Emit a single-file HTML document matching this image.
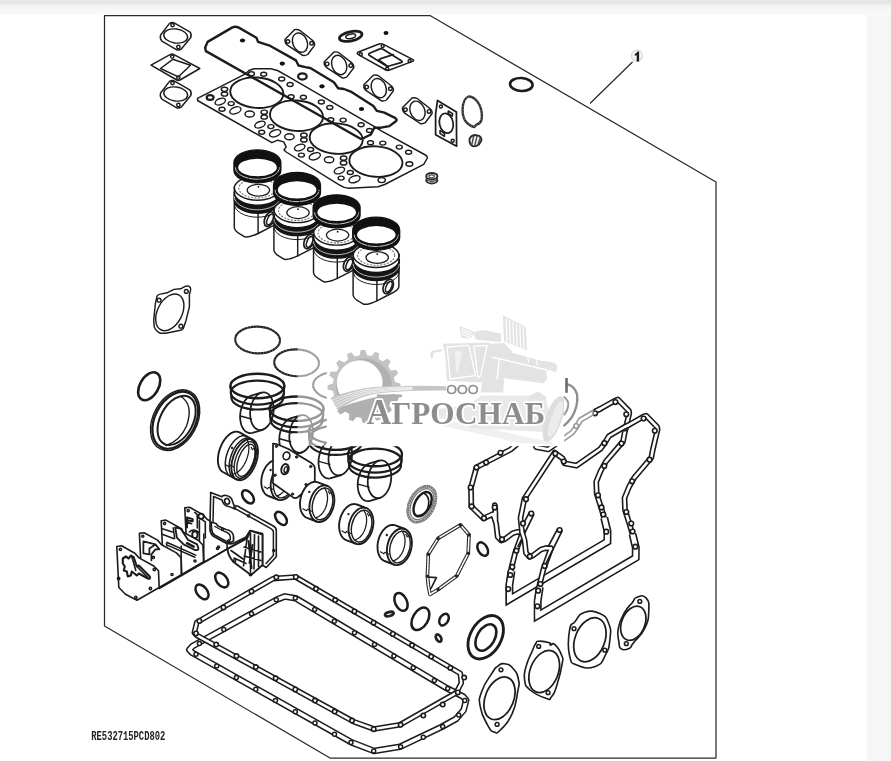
<!DOCTYPE html>
<html><head><meta charset="utf-8"><title>RE532715</title>
<style>
html,body{margin:0;padding:0;}
body{width:891px;height:761px;overflow:hidden;background:#f6f6f6;font-family:"Liberation Sans",sans-serif;position:relative;}
#topbar{position:absolute;left:0;top:0;width:891px;height:15px;background:linear-gradient(#e5e5e5 0,#e7e7e7 4px,#f3f3f3 5.5px,#f6f6f6 10px,#fafafa 15px);}
#panel{position:absolute;left:0;top:14px;width:867px;height:747px;background:#fff;}
svg{position:absolute;left:0;top:0;filter:blur(0.45px);}
</style></head><body>
<div id="panel"></div><div id="topbar"></div>
<svg width="891" height="761" viewBox="0 0 891 761" fill="none" stroke="#1c1c1c" stroke-width="1.45" stroke-linecap="round" stroke-linejoin="round">
<g id="frame" stroke="#2a2a2a" stroke-width="1.25">
<path d="M104.5 626 L104.5 15.5 L430 15.5 L716 182 L716 758 L330 758 Z"/>
<path d="M590.5 103 L632.2 62.2"/>
</g>
<circle cx="636.9" cy="55.6" r="5.6" fill="#f3f3f3" stroke="#dadada" stroke-width="1.25"/>
<path d="M639.1 51.4 L639.1 61.5 L636.7 61.5 L636.7 55 L634.8 55.9 L634.8 54 Q636.8 53 637.4 51.4 Z" fill="#1a1a1a" stroke="none"/>
<text transform="translate(91.3 739.5) scale(0.735 1)" font-family="Liberation Mono, monospace" font-weight="bold" font-size="12" fill="#222" stroke="none">RE532715PCD802</text>
<defs>
<g id="flA"><path d="M-6.2 -12.6 Q-3.7 -14.2 -0.7 -12.6 L14 -4.2 Q16.3 -2 15.1 1.5 L5.8 12.8 Q2.8 15 0.3 13.3 L-13.8 5.1 Q-16.2 2.5 -15.1 -1 Z"/><ellipse cx="0" cy="0" rx="12" ry="7" transform="rotate(8)"/><circle cx="-3.2" cy="-10.9" r="1.7"/><circle cx="2.7" cy="11" r="1.7"/></g>
<g id="flB"><path d="M-4.9 -13.1 Q-2 -13.6 0 -12.4 L13 -2.2 Q15.6 0.5 14.7 2.9 L8 11.8 Q5.5 13.3 3 12.6 L-12.6 2.2 Q-15.3 -0.5 -14.6 -3.4 Z"/><ellipse cx="0.3" cy="0" rx="7.2" ry="10" transform="rotate(-22)"/><circle cx="-11.8" cy="-1.2" r="1.8"/><circle cx="11.9" cy="0.5" r="1.8"/></g>
</defs>
<use href="#flA" x="175.7" y="36"/>
<use href="#flA" x="175.7" y="94"/>
<path d="M151 65.2 L170.5 54.3 Q172 53.6 173.5 54.4 L199.8 68.5 L180 80 Q178.4 80.8 176.8 80 Z"/>
<path d="M160.5 68.5 L172.8 59.3 L190.5 65.3 L178.4 76.8 Z" stroke-linejoin="round"/>
<circle cx="172.3" cy="56.5" r="1.6"/><circle cx="178.3" cy="77.6" r="1.6"/>
<path d="M205.1 47.8 L207.6 41.9 L232 27.6 Q235.5 26 238.8 27.6 L256.4 37.7 L258.1 41.9 L265.7 44.4 L269 45.3 L296 60.4 L298.5 65.5 L305.3 67.1 L310.3 68 L333.9 82.3 L338.1 88.2 L344 89 L350.7 91.6 L373.4 105.9 L376.8 110.9 L384.4 112.6 L394.5 117.6 Q397.5 119.5 396.2 121 L389.4 126.1 L381 127.7 L374.3 127.7 L370.9 134.5 L364.2 137.8 L361 139 L205.9 51.1 Z" stroke-width="2.38"/>
<ellipse cx="242.5" cy="40.5" rx="2.6" ry="2.1" fill="#111" stroke="none"/>
<ellipse cx="282.3" cy="63.6" rx="2.6" ry="2.1" fill="#111" stroke="none"/>
<ellipse cx="322" cy="86.3" rx="2.6" ry="2.1" fill="#111" stroke="none"/>
<ellipse cx="361.5" cy="109" rx="2.6" ry="2.1" fill="#111" stroke="none"/>
<ellipse cx="302.4" cy="76.4" rx="4.3" ry="3.1" stroke-width="2.25" fill="none" />
<ellipse cx="386" cy="33.1" rx="2.5" ry="2" fill="#111" stroke="none"/>
<use href="#flB" x="299.7" y="42.7"/>
<use href="#flB" x="338.9" y="65.1"/>
<use href="#flB" x="378.5" y="88.2"/>
<use href="#flB" x="417.2" y="110.9"/>
<ellipse cx="350.7" cy="36.3" rx="11.5" ry="4.6" transform="rotate(-12 350.7 36.3)" stroke-width="2.75" fill="none" />
<ellipse cx="350.7" cy="36.3" rx="5" ry="2.2" transform="rotate(-12 350.7 36.3)" stroke-width="1.5" fill="none" />
<path d="M358.5 52 L379 44 Q381 43.3 383 44.2 L412.5 59.4 Q414.8 60.6 412.5 61.4 L389.5 70 Q387.7 70.8 386 70 L358.3 54.6 Q356 53.2 358.5 52 Z"/>
<path d="M370 53 L380 48.9 Q381.5 48.4 383 49.2 L401 60.4 Q403.5 62 401 62.7 L389 66 Q387.5 66.5 386 65.7 L369.6 55.6 Q367.6 54 370 53 Z" stroke-width="1.75"/>
<path d="M378.8 59.9 Q380 58.5 383 57.8 L393.2 54.6 M378.8 59.9 L386.5 65.5" stroke-width="1.75"/>
<circle cx="360.8" cy="54.2" r="1.5"/>
<circle cx="382.7" cy="46.1" r="1.5"/>
<circle cx="409.6" cy="60.9" r="1.5"/>
<circle cx="387.2" cy="68.8" r="1.5"/>
<path d="M197.5 98.3 L245.5 73.9 L248.9 70.5 L253.9 68.8 L270.8 68.8 L277.5 70.5 L289.3 77.2 L374 126.4 L380.8 130.6 L425.4 155 Q428 156.5 427.1 158.5 L423.7 164.3 L384.7 184.5 L378 186.8 L349 188.3 Q344 188 339.2 184.8 L286.2 152 L284 150 L286.2 146.9 L283.7 141.9 L277.8 140.2 L271.9 142.7 L197.5 100.5 Z"/>
<ellipse cx="256.8" cy="92.7" rx="26.6" ry="15.2" transform="rotate(4 256.8 92.7)" stroke-width="1.88" fill="none" />
<ellipse cx="251.4" cy="73.8" rx="3" ry="2" fill="none" />
<ellipse cx="263.7" cy="74.2" rx="3" ry="2" fill="none" />
<ellipse cx="224.5" cy="89.3" rx="3.2" ry="2.1" fill="none" />
<ellipse cx="224.5" cy="94.0" rx="3.2" ry="2.1" fill="none" />
<ellipse cx="220.3" cy="101.6" rx="5.4" ry="3" transform="rotate(-20 220.3 101.6)" fill="none" />
<ellipse cx="231.2" cy="103.6" rx="3" ry="2" fill="none" />
<ellipse cx="222.0" cy="109.2" rx="3" ry="2" fill="none" />
<ellipse cx="235.4" cy="110.4" rx="5.8" ry="3.2" transform="rotate(-20 235.4 110.4)" fill="none" />
<ellipse cx="281.7" cy="78.9" rx="3" ry="2" fill="none" />
<ellipse cx="290.1" cy="84.5" rx="3" ry="2" fill="none" />
<ellipse cx="249.7" cy="113.9" rx="4.7" ry="3" fill="none" />
<ellipse cx="296.5" cy="115.7" rx="26.6" ry="15.2" transform="rotate(4 296.5 115.7)" stroke-width="1.88" fill="none" />
<ellipse cx="291.1" cy="96.8" rx="3" ry="2" fill="none" />
<ellipse cx="303.4" cy="97.2" rx="3" ry="2" fill="none" />
<ellipse cx="264.2" cy="112.2" rx="3.2" ry="2.1" fill="none" />
<ellipse cx="264.2" cy="117.0" rx="3.2" ry="2.1" fill="none" />
<ellipse cx="260.0" cy="124.6" rx="5.4" ry="3" transform="rotate(-20 260.0 124.6)" fill="none" />
<ellipse cx="270.9" cy="126.6" rx="3" ry="2" fill="none" />
<ellipse cx="261.7" cy="132.2" rx="3" ry="2" fill="none" />
<ellipse cx="275.1" cy="133.3" rx="5.8" ry="3.2" transform="rotate(-20 275.1 133.3)" fill="none" />
<ellipse cx="321.4" cy="101.9" rx="3" ry="2" fill="none" />
<ellipse cx="329.8" cy="107.5" rx="3" ry="2" fill="none" />
<ellipse cx="289.4" cy="136.8" rx="4.7" ry="3" fill="none" />
<ellipse cx="336.2" cy="138.6" rx="26.6" ry="15.2" transform="rotate(4 336.2 138.6)" stroke-width="1.88" fill="none" />
<ellipse cx="330.8" cy="119.7" rx="3" ry="2" fill="none" />
<ellipse cx="343.1" cy="120.1" rx="3" ry="2" fill="none" />
<ellipse cx="303.9" cy="135.2" rx="3.2" ry="2.1" fill="none" />
<ellipse cx="303.9" cy="139.9" rx="3.2" ry="2.1" fill="none" />
<ellipse cx="299.7" cy="147.5" rx="5.4" ry="3" transform="rotate(-20 299.7 147.5)" fill="none" />
<ellipse cx="310.6" cy="149.5" rx="3" ry="2" fill="none" />
<ellipse cx="301.4" cy="155.1" rx="3" ry="2" fill="none" />
<ellipse cx="314.8" cy="156.3" rx="5.8" ry="3.2" transform="rotate(-20 314.8 156.3)" fill="none" />
<ellipse cx="361.1" cy="124.8" rx="3" ry="2" fill="none" />
<ellipse cx="369.5" cy="130.4" rx="3" ry="2" fill="none" />
<ellipse cx="329.1" cy="159.8" rx="4.7" ry="3" fill="none" />
<ellipse cx="375.9" cy="161.6" rx="26.6" ry="15.2" transform="rotate(4 375.9 161.6)" stroke-width="1.88" fill="none" />
<ellipse cx="370.5" cy="142.7" rx="3" ry="2" fill="none" />
<ellipse cx="382.8" cy="143.1" rx="3" ry="2" fill="none" />
<ellipse cx="343.6" cy="158.2" rx="3.2" ry="2.1" fill="none" />
<ellipse cx="343.6" cy="162.9" rx="3.2" ry="2.1" fill="none" />
<ellipse cx="339.4" cy="170.5" rx="5.4" ry="3" transform="rotate(-20 339.4 170.5)" fill="none" />
<ellipse cx="350.3" cy="172.5" rx="3" ry="2" fill="none" />
<ellipse cx="341.1" cy="178.1" rx="3" ry="2" fill="none" />
<ellipse cx="354.5" cy="179.2" rx="5.8" ry="3.2" transform="rotate(-20 354.5 179.2)" fill="none" />
<ellipse cx="381.7" cy="180.1" rx="3.6" ry="2.5" fill="none" />
<ellipse cx="399.3" cy="147.1" rx="3" ry="2" fill="none" />
<ellipse cx="408.6" cy="152.2" rx="3" ry="2" fill="none" />
<ellipse cx="409.4" cy="164.0" rx="3.4" ry="2.3" fill="none" />
<ellipse cx="210.1" cy="97.4" rx="3.4" ry="2.4" stroke-width="2.25" fill="none" />
<defs><g id="piston">
<path d="M-23.1 23 L-23.1 63.5 Q-22.5 67 -18 69.5 L-12.7 72.7 Q-8 73.5 0.7 69.3 L14 62.5 Q22.7 58.5 22.7 55 L22.7 23 A23.1 13 0 0 0 -23.1 23 Z" fill="#fff"/>
<path d="M0.7 44 L0.7 69.3"/>
<ellipse cx="12" cy="55" rx="4.6" ry="7.6" transform="rotate(24 12 55)" fill="#fff" stroke-width="1.75"/>
<ellipse cx="12.6" cy="55.3" rx="2.6" ry="5.6" transform="rotate(24 12.6 55.3)"/>
<path d="M-23.1 23 A23.1 13 0 0 0 23.1 23" />
<path d="M-23.1 28 A23.1 13 0 0 0 23.1 28 L23.1 36 A23.1 13 0 0 1 -23.1 36 Z" fill="#151515" stroke="#151515"/>
<path d="M-23.1 32.6 A23.1 13 0 0 0 23.1 32.6" stroke="#fff" stroke-width="0.7"/>
<path d="M-23.1 40 A23.1 13 0 0 0 23.1 40" stroke-width="1.0"/>
<ellipse cx="1" cy="26" rx="11.2" ry="5.9" stroke-width="1.25"/>
<ellipse cx="0" cy="24" rx="18.5" ry="9.8" stroke="#777" stroke-width="1.12" stroke-dasharray="1.2 2.2"/>
<circle cx="1" cy="22.6" r="0.9" fill="#111" stroke="none"/>
<path d="M-23.5 -1.5 A23.5 12.8 0 0 1 23.5 -1.5 L23.5 6 A23.5 12.8 0 0 1 -23.5 6 Z" fill="#111" stroke="#111" stroke-width="1.25"/>
<ellipse cx="0.1" cy="3.3" rx="19.3" ry="8.7" fill="#fff" stroke="none"/>
<path d="M-22 3.6 A22 11.4 0 0 0 22 3.6" stroke="#fff" stroke-width="0.9" stroke-dasharray="6 1.5 10 1.2 3 1" opacity="0.85"/>
</g></defs>
<use href="#piston" x="257.4" y="164.2"/>
<use href="#piston" x="297.0" y="186.6"/>
<use href="#piston" x="336.6" y="209.1"/>
<use href="#piston" x="376.2" y="231.5"/>
<ellipse cx="521.3" cy="84.5" rx="11.3" ry="6.5" transform="rotate(3 521.3 84.5)" stroke-width="2.6" fill="none" />
<path d="M437.5 100.4 L456.4 111.9 L456.6 146.2 L435.6 134.7 L435.6 114 Z" stroke-width="1.75"/>
<ellipse cx="446.3" cy="123.3" rx="6.8" ry="10" transform="rotate(-12 446.3 123.3)" stroke-width="1.75" fill="none" />
<path d="M448.3 111 L452.6 113.6 L452.3 116.2 L448 113.4 Z" stroke-width="1.5"/>
<path d="M440 130.5 L444.6 133.6 L444.4 136.4 L440 133.4 Z" stroke-width="1.5"/>
<circle cx="440.9" cy="106.5" r="1.5"/><circle cx="452.7" cy="140.8" r="1.5"/>
<path d="M468.5 96.5 Q474 96 479 104 Q483 112 481.5 120 Q480 124 476.5 124.5 L474.5 127 Q469 126 465 120.5 Q461.5 114 463 105 Q464.5 98 468.5 96.5 Z" stroke-width="2.38" stroke="#333"/>
<path d="M468.5 96.5 Q474 96 479 104 Q483 112 481.5 120 Q480 124 476.5 124.5 L474.5 127 Q469 126 465 120.5 Q461.5 114 463 105 Q464.5 98 468.5 96.5 Z" stroke-width="2.6" stroke="#fff" stroke-dasharray="0.5 2.8" stroke-linecap="butt" opacity="0.4"/>
<path d="M469.5 139 Q471 135.3 475 135 L479 135.8 Q482 138 481.3 140.8 L479 144.5 Q476 146.8 472.8 146.2 Q469 144 469.5 139 Z" fill="#f4f4f4" stroke="#2a2a2a" stroke-width="1.88"/>
<path d="M473.6 136.5 L471.8 144.6 M477 136.6 L474.6 145.6 M480 138.6 L477.8 144.8" stroke="#444" stroke-width="1.38"/>
<ellipse cx="431.8" cy="180.2" rx="5.6" ry="3.3" fill="#fff" stroke="#2a2a2a" stroke-width="1.88"/>
<ellipse cx="431.8" cy="178.2" rx="5.4" ry="3.1" fill="#fff" stroke="#444" stroke-width="1.38"/>
<ellipse cx="431.8" cy="176.2" rx="5.6" ry="3.2" fill="#e6e6e6" stroke="#2a2a2a" stroke-width="1.88"/>
<ellipse cx="431.6" cy="176.3" rx="2.7" ry="1.4" fill="#fff" stroke="#444" stroke-width="1.12"/>
<path d="M188.7 286.1 Q191 287.5 190.7 289.4 L189.4 294.8 L189.4 306.9 L186 320.4 L183.3 328.5 Q182 330.3 179.3 330.5 L165.8 333.2 L160.4 333.2 Q156 331.5 154.3 327.1 L153.7 320.4 L155.3 304.2 L157 296.2 Q158 294.3 160.4 294.1 L167.1 292.8 L173.9 289.4 L180.6 288.8 L184.6 286.7 Q186.8 285.5 188.7 286.1 Z"/>
<ellipse cx="169.8" cy="312.3" rx="12.3" ry="19.6" transform="rotate(27 169.8 312.3)" fill="none" />
<circle cx="159.1" cy="300.2" r="1.9"/>
<circle cx="186.3" cy="291.4" r="1.9"/>
<circle cx="180.9" cy="326.2" r="1.9"/>
<ellipse cx="149.2" cy="386.3" rx="9.3" ry="15.2" transform="rotate(30 149.2 386.3)" stroke-width="2.62" fill="none" />
<ellipse cx="175.1" cy="420.2" rx="22" ry="32.3" transform="rotate(28 175.1 420.2)" stroke-width="1.38" fill="none" />
<ellipse cx="175.3" cy="420.2" rx="20.3" ry="30.5" transform="rotate(28 175.3 420.2)" stroke-width="2.38" fill="none" />
<ellipse cx="176.6" cy="420.4" rx="16.4" ry="26.5" transform="rotate(28 176.6 420.4)" stroke-width="2.0" fill="none" />
<path d="M181 396.5 Q194 405 186.5 426 Q180 441 166 445.5" stroke-width="1.38"/>
<ellipse cx="257.6" cy="340" rx="22.4" ry="13.4" transform="rotate(2 257.6 340)" stroke-width="2.12" fill="none" stroke="#222"/>
<ellipse cx="257.6" cy="340" rx="22.4" ry="13.4" transform="rotate(2 257.6 340)" stroke-width="2.2" fill="none" stroke="#fff" stroke-dasharray="0.5 2.6" stroke-linecap="butt" opacity="0.4"/>
<ellipse cx="296.6" cy="362.8" rx="22.4" ry="13.4" transform="rotate(2 296.6 362.8)" stroke-width="2.12" fill="none" stroke="#222"/>
<ellipse cx="296.6" cy="362.8" rx="22.4" ry="13.4" transform="rotate(2 296.6 362.8)" stroke-width="2.2" fill="none" stroke="#fff" stroke-dasharray="0.5 2.6" stroke-linecap="butt" opacity="0.4"/>
<ellipse cx="335.5" cy="385.6" rx="22.4" ry="13.4" transform="rotate(2 335.5 385.6)" stroke-width="2.12" fill="none" stroke="#222"/>
<ellipse cx="335.5" cy="385.6" rx="22.4" ry="13.4" transform="rotate(2 335.5 385.6)" stroke-width="2.2" fill="none" stroke="#fff" stroke-dasharray="0.5 2.6" stroke-linecap="butt" opacity="0.4"/>
<path d="M262.5 429.8 L252.5 432.8 L251.5 433.0 L250.6 433.1 L249.7 433.1 L248.8 432.9 L247.9 432.7 L247.1 432.3 L246.2 431.9 L245.4 431.3 L244.7 430.6 L244.0 429.8 L243.3 428.9 L242.7 428.0 L242.2 426.9 L241.7 425.8 L241.2 424.6 L240.9 423.3 L240.6 422.0 L240.4 420.6 L240.2 419.2 L240.1 417.7 L240.1 416.3 L240.2 414.8 L240.3 413.3 L240.5 411.8 L240.8 410.4 L241.2 408.9 L241.6 407.5 L242.0 406.2 L242.6 404.8 L243.2 403.6 L243.8 402.4 L244.5 401.3 L245.3 400.2 L246.1 399.3 L246.9 398.4 L247.7 397.6 L248.6 397.0 L249.5 396.4 L250.4 396.0 L251.3 395.6 L261.3 392.6" stroke-width="1.75" fill="#fff"/>
<ellipse cx="261.9" cy="411.2" rx="11.6" ry="19" transform="rotate(8 261.9 411.2)" stroke-width="1.75" fill="none"/>
<path d="M241.4 407.0 L252.4 410.0 M240.4 416.0 L251.4 419.0" stroke-width="1.5"/>
<ellipse cx="257.4" cy="386.0" rx="27" ry="12.2" stroke-width="2.38" fill="none" />
<ellipse cx="257.4" cy="392.5" rx="26.6" ry="12" stroke-width="2.25" fill="none" />
<path d="M231.4 397.5 A26 12 0 0 0 283.4 397.5" stroke-width="2.12"/>
<path d="M230.4 386.0 L231.4 397.5 M284.4 386.0 L283.4 397.5" stroke-width="1.88"/>
<path d="M301.7 452.5 L291.7 455.5 L290.7 455.7 L289.8 455.8 L288.9 455.8 L288.0 455.6 L287.1 455.4 L286.3 455.0 L285.4 454.6 L284.6 454.0 L283.9 453.3 L283.2 452.5 L282.5 451.6 L281.9 450.7 L281.4 449.6 L280.9 448.5 L280.4 447.3 L280.1 446.0 L279.8 444.7 L279.6 443.3 L279.4 441.9 L279.3 440.4 L279.3 439.0 L279.4 437.5 L279.5 436.0 L279.7 434.5 L280.0 433.1 L280.4 431.6 L280.8 430.2 L281.2 428.9 L281.8 427.5 L282.4 426.3 L283.0 425.1 L283.7 424.0 L284.5 422.9 L285.3 422.0 L286.1 421.1 L286.9 420.3 L287.8 419.7 L288.7 419.1 L289.6 418.7 L290.5 418.3 L300.5 415.3" stroke-width="1.75" fill="#fff"/>
<ellipse cx="301.1" cy="433.9" rx="11.6" ry="19" transform="rotate(8 301.1 433.9)" stroke-width="1.75" fill="none"/>
<path d="M280.6 429.7 L291.6 432.7 M279.6 438.7 L290.6 441.7" stroke-width="1.5"/>
<ellipse cx="296.6" cy="408.7" rx="27" ry="12.2" stroke-width="2.38" fill="none" />
<ellipse cx="296.6" cy="415.2" rx="26.6" ry="12" stroke-width="2.25" fill="none" />
<path d="M270.6 420.2 A26 12 0 0 0 322.6 420.2" stroke-width="2.12"/>
<path d="M269.6 408.7 L270.6 420.2 M323.6 408.7 L322.6 420.2" stroke-width="1.88"/>
<path d="M340.9 475.2 L330.9 478.2 L329.9 478.4 L329.0 478.5 L328.1 478.5 L327.2 478.3 L326.3 478.1 L325.5 477.7 L324.6 477.3 L323.8 476.7 L323.1 476.0 L322.4 475.2 L321.7 474.3 L321.1 473.4 L320.6 472.3 L320.1 471.2 L319.6 470.0 L319.3 468.7 L319.0 467.4 L318.8 466.0 L318.6 464.6 L318.5 463.1 L318.5 461.7 L318.6 460.2 L318.7 458.7 L318.9 457.2 L319.2 455.8 L319.6 454.3 L320.0 452.9 L320.4 451.6 L321.0 450.2 L321.6 449.0 L322.2 447.8 L322.9 446.7 L323.7 445.6 L324.5 444.7 L325.3 443.8 L326.1 443.0 L327.0 442.4 L327.9 441.8 L328.8 441.4 L329.7 441.0 L339.7 438.0" stroke-width="1.75" fill="#fff"/>
<ellipse cx="340.3" cy="456.6" rx="11.6" ry="19" transform="rotate(8 340.3 456.6)" stroke-width="1.75" fill="none"/>
<path d="M319.8 452.4 L330.8 455.4 M318.8 461.4 L329.8 464.4" stroke-width="1.5"/>
<ellipse cx="335.8" cy="431.4" rx="27" ry="12.2" stroke-width="2.38" fill="none" />
<ellipse cx="335.8" cy="437.9" rx="26.6" ry="12" stroke-width="2.25" fill="none" />
<path d="M309.8 442.9 A26 12 0 0 0 361.8 442.9" stroke-width="2.12"/>
<path d="M308.8 431.4 L309.8 442.9 M362.8 431.4 L361.8 442.9" stroke-width="1.88"/>
<path d="M380.1 497.9 L370.1 500.9 L369.1 501.1 L368.2 501.2 L367.3 501.2 L366.4 501.0 L365.5 500.8 L364.7 500.4 L363.8 500.0 L363.0 499.4 L362.3 498.7 L361.6 497.9 L360.9 497.0 L360.3 496.1 L359.8 495.0 L359.3 493.9 L358.8 492.7 L358.5 491.4 L358.2 490.1 L358.0 488.7 L357.8 487.3 L357.7 485.8 L357.7 484.4 L357.8 482.9 L357.9 481.4 L358.1 479.9 L358.4 478.5 L358.8 477.0 L359.2 475.6 L359.6 474.3 L360.2 472.9 L360.8 471.7 L361.4 470.5 L362.1 469.4 L362.9 468.3 L363.7 467.4 L364.5 466.5 L365.3 465.7 L366.2 465.1 L367.1 464.5 L368.0 464.1 L368.9 463.7 L378.9 460.7" stroke-width="1.75" fill="#fff"/>
<ellipse cx="379.5" cy="479.3" rx="11.6" ry="19" transform="rotate(8 379.5 479.3)" stroke-width="1.75" fill="none"/>
<path d="M359.0 475.1 L370.0 478.1 M358.0 484.1 L369.0 487.1" stroke-width="1.5"/>
<ellipse cx="375.0" cy="454.1" rx="27" ry="12.2" stroke-width="2.38" fill="none" />
<ellipse cx="375.0" cy="460.6" rx="26.6" ry="12" stroke-width="2.25" fill="none" />
<path d="M349.0 465.6 A26 12 0 0 0 401.0 465.6" stroke-width="2.12"/>
<path d="M348.0 454.1 L349.0 465.6 M402.0 454.1 L401.0 465.6" stroke-width="1.88"/>
<path d="M236.4 479.5 L222.9 472.0 L222.1 471.5 L221.4 470.8 L220.7 470.1 L220.1 469.2 L219.6 468.3 L219.1 467.2 L218.7 466.0 L218.4 464.8 L218.1 463.5 L218.0 462.1 L217.9 460.6 L217.9 459.1 L218.0 457.6 L218.2 456.0 L218.4 454.4 L218.7 452.8 L219.1 451.2 L219.6 449.6 L220.2 448.0 L220.8 446.4 L221.5 444.9 L222.2 443.4 L223.0 442.0 L223.9 440.6 L224.8 439.3 L225.7 438.1 L226.7 436.9 L227.7 435.9 L228.7 435.0 L229.7 434.1 L230.7 433.4 L231.8 432.8 L232.8 432.3 L233.9 432.0 L234.9 431.7 L235.9 431.6 L236.8 431.6 L237.8 431.8 L238.6 432.0 L239.5 432.4 L253.0 439.9" stroke-width="1.88" fill="#fff"/>
<ellipse cx="244.7" cy="459.7" rx="11.8" ry="21.5" transform="rotate(20 244.7 459.7)" stroke-width="1.88" fill="none"/>
<ellipse cx="245.29999999999998" cy="459.9" rx="9.600000000000001" ry="19.1" transform="rotate(20 245.29999999999998 459.9)" stroke-width="1.38" fill="none" />
<path d="M247.1 440.0 L247.8 441.4 L248.4 443.0 L248.7 444.7 L248.9 446.7 L248.9 448.8 L248.7 451.0 L248.4 453.3 L247.8 455.6 L247.1 457.9 L246.3 460.2 L245.3 462.4 L244.2 464.5 L243.0 466.4 L241.7 468.2 L240.3 469.8 L238.9 471.1 L237.5 472.2 L236.1 473.0 L234.7 473.6 L233.4 473.8" stroke-width="1.25"/>
<circle cx="232.1" cy="447.9" r="1.2" fill="#222" stroke="none"/>
<path d="M251.2 447.2 l1.2 2.5 l1.6 -1.6 l0.8 2.4" stroke-width="1.12"/>
<path d="M225.7 464.7 l3.5 2 l1 -1.5 l4 2" stroke-width="1.12"/>
<path d="M230.3 476.1 L229.5 475.6 L228.8 475.0 L228.1 474.2 L227.5 473.3 L227.0 472.4 L226.5 471.3 L226.1 470.2 L225.8 468.9 L225.6 467.6 L225.4 466.2 L225.3 464.8 L225.3 463.3 L225.4 461.7 L225.6 460.2 L225.8 458.6 L226.2 456.9 L226.6 455.3 L227.1 453.7 L227.6 452.1 L228.2 450.5 L228.9 449.0 L229.6 447.5 L230.4 446.1 L231.3 444.7 L232.2 443.4 L233.1 442.2 L234.1 441.1 L235.1 440.0 L236.1 439.1 L237.1 438.3 L238.2 437.5 L239.2 436.9 L240.3 436.4 L241.3 436.1 L242.3 435.8 L243.3 435.7 L244.3 435.7 L245.2 435.9 L246.1 436.2 L246.9 436.6" stroke-width="1.5"/>
<ellipse cx="245.89999999999998" cy="460.3" rx="7.6000000000000005" ry="16.9" transform="rotate(20 245.89999999999998 460.3)" stroke-width="1.38" fill="none" />
<ellipse cx="242.5" cy="458.7" rx="11.8" ry="21.5" transform="rotate(20 242.5 458.7)" stroke-width="1.5" fill="none" />
<path d="M277.8 499.6 L268.4 496.0 L267.5 495.6 L266.7 495.1 L265.9 494.5 L265.2 493.8 L264.5 493.0 L263.9 492.1 L263.3 491.1 L262.8 490.0 L262.4 488.9 L262.0 487.7 L261.7 486.5 L261.5 485.2 L261.4 483.8 L261.3 482.4 L261.3 481.0 L261.4 479.6 L261.6 478.2 L261.8 476.7 L262.2 475.3 L262.5 473.9 L263.0 472.5 L263.5 471.2 L264.1 469.9 L264.8 468.6 L265.5 467.4 L266.2 466.3 L267.0 465.2 L267.9 464.3 L268.7 463.4 L269.7 462.6 L270.6 461.9 L271.6 461.3 L272.5 460.8 L273.5 460.4 L274.5 460.1 L275.5 460.0 L276.4 459.9 L277.4 460.0 L278.3 460.2 L279.2 460.4 L288.6 464.0" stroke-width="1.88" fill="#fff"/>
<ellipse cx="283.2" cy="481.8" rx="12" ry="18.6" transform="rotate(14 283.2 481.8)" stroke-width="1.88" fill="none"/>
<ellipse cx="283.8" cy="482.0" rx="9.8" ry="16.200000000000003" transform="rotate(14 283.8 482.0)" stroke-width="1.38" fill="none" />
<path d="M285.6 466.0 L286.5 467.1 L287.3 468.5 L287.9 470.0 L288.4 471.6 L288.7 473.4 L288.8 475.3 L288.8 477.3 L288.6 479.3 L288.2 481.4 L287.7 483.4 L287.1 485.3 L286.3 487.2 L285.3 488.9 L284.3 490.5 L283.2 491.9 L282.0 493.1 L280.7 494.1 L279.4 494.9 L278.1 495.4 L276.8 495.7" stroke-width="1.25"/>
<circle cx="270.6" cy="470.0" r="1.2" fill="#222" stroke="none"/>
<path d="M289.7 469.3 l1.2 2.5 l1.6 -1.6 l0.8 2.4" stroke-width="1.12"/>
<path d="M264.2 486.8 l3.5 2 l1 -1.5 l4 2" stroke-width="1.12"/>
<path d="M273 443.6 L276.5 444 L288.5 449 L299.3 455.7 L311.4 463.1 Q314.8 465.5 314.8 468 L314.8 483.3 L298 497 Q295.5 498.8 293 497.4 L273 483.3 Z" fill="#fff" stroke-width="1.75"/>
<ellipse cx="286.5" cy="455.9" rx="3.4" ry="3.9" transform="rotate(15 286.5 455.9)" stroke-width="1.62" fill="none" />
<ellipse cx="285" cy="469.2" rx="3.6" ry="5.2" transform="rotate(15 285 469.2)" stroke-width="2.0" fill="none" />
<ellipse cx="285.8" cy="469.6" rx="1.6" ry="3.0" transform="rotate(15 285.8 469.6)" stroke-width="1.38" fill="none" />
<circle cx="276.4" cy="446.3" r="1.2" fill="#333" stroke="#222" stroke-width="1.0"/>
<circle cx="275" cy="475.2" r="1.2" fill="#333" stroke="#222" stroke-width="1.0"/>
<circle cx="296.6" cy="457" r="1.2" fill="#333" stroke="#222" stroke-width="1.0"/>
<circle cx="310.7" cy="466.5" r="1.2" fill="#333" stroke="#222" stroke-width="1.0"/>
<circle cx="306" cy="484.6" r="1.2" fill="#333" stroke="#222" stroke-width="1.0"/>
<circle cx="292.5" cy="494.1" r="1.2" fill="#333" stroke="#222" stroke-width="1.0"/>
<circle cx="308.7" cy="491.4" r="1.2" fill="#333" stroke="#222" stroke-width="1.0"/>
<path d="M316.5 521.5 L307.1 517.9 L306.2 517.5 L305.4 517.0 L304.6 516.4 L303.9 515.7 L303.2 514.9 L302.6 514.0 L302.0 513.0 L301.5 511.9 L301.1 510.8 L300.7 509.6 L300.4 508.4 L300.2 507.1 L300.1 505.7 L300.0 504.3 L300.0 502.9 L300.1 501.5 L300.3 500.1 L300.5 498.6 L300.9 497.2 L301.2 495.8 L301.7 494.4 L302.2 493.1 L302.8 491.8 L303.5 490.5 L304.2 489.3 L304.9 488.2 L305.7 487.1 L306.6 486.2 L307.4 485.3 L308.4 484.5 L309.3 483.8 L310.3 483.2 L311.2 482.7 L312.2 482.3 L313.2 482.0 L314.2 481.9 L315.1 481.8 L316.1 481.9 L317.0 482.1 L317.9 482.3 L327.3 485.9" stroke-width="1.88" fill="#fff"/>
<ellipse cx="321.9" cy="503.7" rx="12" ry="18.6" transform="rotate(14 321.9 503.7)" stroke-width="1.88" fill="none"/>
<ellipse cx="322.5" cy="503.9" rx="9.8" ry="16.200000000000003" transform="rotate(14 322.5 503.9)" stroke-width="1.38" fill="none" />
<path d="M324.3 487.9 L325.2 489.0 L326.0 490.4 L326.6 491.9 L327.1 493.5 L327.4 495.3 L327.5 497.2 L327.5 499.2 L327.3 501.2 L326.9 503.3 L326.4 505.3 L325.8 507.2 L325.0 509.1 L324.0 510.8 L323.0 512.4 L321.9 513.8 L320.7 515.0 L319.4 516.0 L318.1 516.8 L316.8 517.3 L315.5 517.6" stroke-width="1.25"/>
<circle cx="309.3" cy="491.9" r="1.2" fill="#222" stroke="none"/>
<path d="M328.4 491.2 l1.2 2.5 l1.6 -1.6 l0.8 2.4" stroke-width="1.12"/>
<path d="M302.9 508.7 l3.5 2 l1 -1.5 l4 2" stroke-width="1.12"/>
<path d="M355.6 543.7 L346.2 540.1 L345.3 539.7 L344.5 539.2 L343.7 538.6 L343.0 537.9 L342.3 537.1 L341.7 536.2 L341.1 535.2 L340.6 534.1 L340.2 533.0 L339.8 531.8 L339.5 530.6 L339.3 529.3 L339.2 527.9 L339.1 526.5 L339.1 525.1 L339.2 523.7 L339.4 522.3 L339.6 520.8 L340.0 519.4 L340.3 518.0 L340.8 516.6 L341.3 515.3 L341.9 514.0 L342.6 512.7 L343.3 511.5 L344.0 510.4 L344.8 509.3 L345.7 508.4 L346.5 507.5 L347.5 506.7 L348.4 506.0 L349.4 505.4 L350.3 504.9 L351.3 504.5 L352.3 504.2 L353.3 504.1 L354.2 504.0 L355.2 504.1 L356.1 504.3 L357.0 504.5 L366.4 508.1" stroke-width="1.88" fill="#fff"/>
<ellipse cx="361" cy="525.9" rx="12" ry="18.6" transform="rotate(14 361 525.9)" stroke-width="1.88" fill="none"/>
<ellipse cx="361.6" cy="526.1" rx="9.8" ry="16.200000000000003" transform="rotate(14 361.6 526.1)" stroke-width="1.38" fill="none" />
<path d="M363.4 510.1 L364.3 511.2 L365.1 512.6 L365.7 514.1 L366.2 515.7 L366.5 517.5 L366.6 519.4 L366.6 521.4 L366.4 523.4 L366.0 525.5 L365.5 527.5 L364.9 529.4 L364.1 531.3 L363.1 533.0 L362.1 534.6 L361.0 536.0 L359.8 537.2 L358.5 538.2 L357.2 539.0 L355.9 539.5 L354.6 539.8" stroke-width="1.25"/>
<circle cx="348.4" cy="514.1" r="1.2" fill="#222" stroke="none"/>
<path d="M367.5 513.4 l1.2 2.5 l1.6 -1.6 l0.8 2.4" stroke-width="1.12"/>
<path d="M342.0 530.9 l3.5 2 l1 -1.5 l4 2" stroke-width="1.12"/>
<path d="M394.0 564.6 L384.6 561.0 L383.7 560.6 L382.9 560.1 L382.1 559.5 L381.4 558.8 L380.7 558.0 L380.1 557.1 L379.5 556.1 L379.0 555.0 L378.6 553.9 L378.2 552.7 L377.9 551.5 L377.7 550.2 L377.6 548.8 L377.5 547.4 L377.5 546.0 L377.6 544.6 L377.8 543.2 L378.0 541.7 L378.4 540.3 L378.7 538.9 L379.2 537.5 L379.7 536.2 L380.3 534.9 L381.0 533.6 L381.7 532.4 L382.4 531.3 L383.2 530.2 L384.1 529.3 L384.9 528.4 L385.9 527.6 L386.8 526.9 L387.8 526.3 L388.7 525.8 L389.7 525.4 L390.7 525.1 L391.7 525.0 L392.6 524.9 L393.6 525.0 L394.5 525.2 L395.4 525.4 L404.8 529.0" stroke-width="1.88" fill="#fff"/>
<ellipse cx="399.4" cy="546.8" rx="12" ry="18.6" transform="rotate(14 399.4 546.8)" stroke-width="1.88" fill="none"/>
<ellipse cx="400.0" cy="547.0" rx="9.8" ry="16.200000000000003" transform="rotate(14 400.0 547.0)" stroke-width="1.38" fill="none" />
<path d="M401.8 531.0 L402.7 532.1 L403.5 533.5 L404.1 535.0 L404.6 536.6 L404.9 538.4 L405.0 540.3 L405.0 542.3 L404.8 544.3 L404.4 546.4 L403.9 548.4 L403.3 550.3 L402.5 552.2 L401.5 553.9 L400.5 555.5 L399.4 556.9 L398.2 558.1 L396.9 559.1 L395.6 559.9 L394.3 560.4 L393.0 560.7" stroke-width="1.25"/>
<circle cx="386.8" cy="535.0" r="1.2" fill="#222" stroke="none"/>
<path d="M405.9 534.3 l1.2 2.5 l1.6 -1.6 l0.8 2.4" stroke-width="1.12"/>
<path d="M380.4 551.8 l3.5 2 l1 -1.5 l4 2" stroke-width="1.12"/>
<path d="M184.8 507.9 L189.5 507.2 L202.9 514.6 L207.0 519.3 L221.8 527.4 L226.5 532.1 L227.2 548.9 L205.0 561.7 L193.5 555.7 L186.8 548.9 Z" fill="#fff" stroke-width="1.62"/>
<g transform="translate(184.8 507.9)"><path d="M2.2 9.5 L2.2 19.6 M2.2 9.5 L7.9 11.2 L7.9 13.4 L3.4 12.6 M2.2 14.6 L6.7 15.7" stroke-width="2.0"/><circle cx="16.3" cy="8.4" r="2.7" stroke-width="1.88"/><ellipse cx="10.1" cy="26.9" rx="2.7" ry="3.5" stroke-width="1.88"/><path d="M14.6 12.9 L14.6 36.5 M4.5 24.1 Q9 19.5 14.6 25.3 M10 4.5 Q13 6 12.5 9.5 L12.5 20 M17.5 12 L20.5 14 L20.5 30" stroke-width="1.62"/><circle cx="3.4" cy="2.8" r="1.1"/><circle cx="2.8" cy="30" r="1.1"/></g>
<path d="M161.2 520.8 L165.9 520.1 L179.3 527.5 L183.4 532.2 L198.2 540.3 L202.9 545.0 L203.6 561.8 L181.4 574.6 L169.9 568.6 L163.2 561.8 Z" fill="#fff" stroke-width="1.62"/>
<g transform="translate(161.2 520.8)"><path d="M14 6.7 L15.7 16.8 L22.4 23.6 L33.7 29.2 Q38 30 37 26.9 L35.9 23.6 L26.9 19.1 L22.4 12.3 L20.2 7.9 Z" stroke-width="1.88"/><path d="M25.8 22.4 L32.5 25.8" stroke-width="2.5"/><path d="M5.6 24.1 L33.7 36.5 M6.6 22 L34.5 34.3 M1.1 7.9 L11.2 11.2 M1.1 13.5 L12.9 18 M12 7 L13.5 17.5 M6 21.5 Q4.5 23 6 25" stroke-width="1.5"/><circle cx="3.4" cy="2.8" r="1.1"/><circle cx="3" cy="27" r="1.1"/><circle cx="16" cy="35" r="1.1"/></g>
<path d="M139.4 533.4 L144.1 532.7 L157.5 540.1 L161.6 544.8 L176.4 552.9 L181.1 557.6 L181.8 574.4 L159.6 587.2 L148.1 581.2 L141.4 574.4 Z" fill="#fff" stroke-width="1.62"/>
<g transform="translate(139.4 533.4)"><path d="M4 8 L16 11 L10 15 L10 21 L4 20 Z M16 11 L20 16 L16 16 L12 21 L12 27" stroke-width="1.75"/><circle cx="3.4" cy="2.8" r="1.1"/><circle cx="14" cy="24" r="1.1"/></g>
<path d="M116.8 546.5 L121.5 545.8 L134.9 553.2 L139.0 557.9 L153.8 566.0 L158.5 570.7 L159.2 587.5 L137.0 600.3 L125.5 594.3 L118.8 587.5 Z" fill="#fff" stroke-width="1.62"/>
<g transform="translate(116.8 546.5)"><path d="M6 12 L9 10 L12 12 L14 9 L17 11 L20 20 L22 19 L33 30 Q34 33 31 32 L22 27 L20 29 L15 25 L14 29 L11 30 L10 25 L7 24 L8 20 L6 17 Z" stroke-width="2.12"/><path d="M15 10 L19 24 M21 21 L31 31" stroke-width="1.62"/><circle cx="3.6" cy="2.8" r="1.2"/><circle cx="1.8" cy="32" r="1.2"/><circle cx="37.5" cy="23" r="1.2"/><circle cx="33.6" cy="42" r="1.2"/><circle cx="19" cy="51" r="1.2"/></g>
<path d="M159.2 588.5 L247 537.5" stroke-width="1.62"/>
<path d="M181.2 546 L181.2 575.5 M203.8 534 L203.8 562" stroke-width="1.5"/>
<circle cx="172" cy="574.5" r="1.1"/><circle cx="195" cy="561" r="1.1"/><circle cx="217.5" cy="548.5" r="1.1"/>
<path d="M210.7 492.4 L221.8 496.8 Q222.5 495 226 495.5 Q231.5 496.3 232.6 501.5 L233.9 505.3 L237.9 506.3 L272.9 525.8 Q276.3 527.5 276.3 530.5 L276.3 556.8 L266.2 567.5 L262.5 565.2 L262.5 533.5 L250 530.5 L246 537 L233 543.5 Q228 545 222 541 L213 536 Q209.9 533 209.9 529 Z" stroke-width="1.62" fill="#fff"/>
<path d="M213.6 496.5 L222 500 Q223.5 506 229 506.6 L236.5 509.3 L270.5 528.3 Q273.4 529.8 273.4 532 L273.4 555.6 L266 563.4" stroke-width="1.5"/>
<path d="M213.6 496.5 L213 521.5" stroke-width="1.5"/>
<ellipse cx="227.1" cy="501.3" rx="2.4" ry="2.9" transform="rotate(-20 227.1 501.3)" stroke-width="1.62" fill="none" />
<path d="M211 522 L216 523.5 L218 526 L226 529.5 Q233 531 233.5 536 L233.5 541 Q231 543.5 226.5 541.5 L214.5 535 Q211.5 532.5 211.5 528 Z" stroke-width="1.75"/>
<path d="M214.8 526.5 L224.5 531.5 Q230 533 230.3 537 L230.3 539.5" stroke-width="1.38"/>
<circle cx="234.5" cy="507.8" r="1.1"/>
<circle cx="248.5" cy="515.8" r="1.1"/>
<circle cx="273.8" cy="550.5" r="1.1"/>
<circle cx="222.5" cy="529.5" r="1.1"/>
<circle cx="228.8" cy="540.8" r="1.1"/>
<circle cx="218.5" cy="547" r="1.1"/>
<path d="M227.5 549 L247 538.5 L250.5 530.8 L262.5 534.5 L262.5 565 L251 575 L233.5 562 Q228 556 227.5 549 Z" fill="#fff" stroke-width="1.88"/>
<path d="M247 538.5 L243.5 566 M250.5 533.5 L250.5 572 M254.5 534.5 L254 569 M258.5 536 L258.5 566.5 M231 550.5 L243 559 M244 547 L261 552 M244 556 L261 560.5 M234 558 L246 563.5" stroke-width="1.62"/>
<path d="M248.5 541 L251.5 568 M252.5 545 L249.5 563" stroke-width="2.0"/>
<circle cx="234.5" cy="560.8" r="1.2"/><circle cx="250.5" cy="574.5" r="1.2"/>
<ellipse cx="248" cy="496.8" rx="7.6" ry="4.6" transform="rotate(52 248 496.8)" stroke-width="2.5" fill="none" />
<ellipse cx="281" cy="518.4" rx="7.6" ry="4.6" transform="rotate(52 281 518.4)" stroke-width="2.5" fill="none" />
<ellipse cx="221.8" cy="580" rx="8.4" ry="5.2" transform="rotate(52 221.8 580)" stroke-width="2.5" fill="none" />
<ellipse cx="202" cy="591.9" rx="8.4" ry="5.2" transform="rotate(52 202 591.9)" stroke-width="2.5" fill="none" />
<path d="M189.3 649.8 L192.5 646.2 L277.5 599.3 L285.0 596.4 L295.5 598.2 L447.0 688.3 L463.0 696.5 L466.2 700.2 L463.6 710.2 L456.0 719.0 L441.5 727.0 L400.0 746.8 L374.0 751.0 L351.5 742.3 L192.0 652.6 Z" stroke="#1c1c1c" stroke-width="6.6" stroke-linejoin="round"/>
<path d="M189.3 649.8 L192.5 646.2 L277.5 599.3 L285.0 596.4 L295.5 598.2 L447.0 688.3 L463.0 696.5 L466.2 700.2 L463.6 710.2 L456.0 719.0 L441.5 727.0 L400.0 746.8 L374.0 751.0 L351.5 742.3 L192.0 652.6 Z" stroke="#fff" stroke-width="3.6" stroke-linejoin="round"/>
<circle cx="196.0" cy="654.2" r="2.0" fill="#fff" stroke-width="1.5"/>
<circle cx="216.7" cy="666.0" r="2.0" fill="#fff" stroke-width="1.5"/>
<circle cx="236.4" cy="677.5" r="2.0" fill="#fff" stroke-width="1.5"/>
<circle cx="255.8" cy="689.2" r="2.0" fill="#fff" stroke-width="1.5"/>
<circle cx="275.5" cy="700.5" r="2.0" fill="#fff" stroke-width="1.5"/>
<circle cx="295.3" cy="711.8" r="2.0" fill="#fff" stroke-width="1.5"/>
<circle cx="315.0" cy="723.0" r="2.0" fill="#fff" stroke-width="1.5"/>
<circle cx="334.5" cy="734.2" r="2.0" fill="#fff" stroke-width="1.5"/>
<circle cx="351.0" cy="742.6" r="2.0" fill="#fff" stroke-width="1.5"/>
<circle cx="373.7" cy="751.0" r="2.0" fill="#fff" stroke-width="1.5"/>
<circle cx="400.6" cy="746.8" r="2.0" fill="#fff" stroke-width="1.5"/>
<circle cx="423.3" cy="737.2" r="2.0" fill="#fff" stroke-width="1.5"/>
<circle cx="442.7" cy="726.6" r="2.0" fill="#fff" stroke-width="1.5"/>
<circle cx="458.7" cy="714.9" r="2.0" fill="#fff" stroke-width="1.5"/>
<circle cx="464.8" cy="700.5" r="2.0" fill="#fff" stroke-width="1.5"/>
<circle cx="199.4" cy="643.5" r="2.0" fill="#fff" stroke-width="1.5"/>
<circle cx="223.8" cy="629.6" r="2.0" fill="#fff" stroke-width="1.5"/>
<circle cx="251.5" cy="613.8" r="2.0" fill="#fff" stroke-width="1.5"/>
<circle cx="276.3" cy="599.8" r="2.0" fill="#fff" stroke-width="1.5"/>
<circle cx="295.3" cy="598.0" r="2.0" fill="#fff" stroke-width="1.5"/>
<circle cx="314.7" cy="609.6" r="2.0" fill="#fff" stroke-width="1.5"/>
<circle cx="334.3" cy="621.3" r="2.0" fill="#fff" stroke-width="1.5"/>
<circle cx="354.5" cy="632.7" r="2.0" fill="#fff" stroke-width="1.5"/>
<circle cx="374.5" cy="644.6" r="2.0" fill="#fff" stroke-width="1.5"/>
<circle cx="393.9" cy="656.0" r="2.0" fill="#fff" stroke-width="1.5"/>
<circle cx="413.2" cy="667.8" r="2.0" fill="#fff" stroke-width="1.5"/>
<circle cx="434.3" cy="680.5" r="2.0" fill="#fff" stroke-width="1.5"/>
<circle cx="447.7" cy="688.5" r="2.0" fill="#fff" stroke-width="1.5"/>
<path d="M194.3 632.6 L196.8 622.4 L273.2 578.6 L295.5 577.0 L460.3 673.4 L461.3 683.0 L456.2 692.8 L400.0 724.8 L374.0 729.0 L354.0 721.8 L196.5 635.2 Z" stroke="#1c1c1c" stroke-width="5.6" stroke-linejoin="round"/>
<path d="M194.3 632.6 L196.8 622.4 L273.2 578.6 L295.5 577.0 L460.3 673.4 L461.3 683.0 L456.2 692.8 L400.0 724.8 L374.0 729.0 L354.0 721.8 L196.5 635.2 Z" stroke="#fff" stroke-width="2.5" stroke-linejoin="round"/>
<circle cx="196.0" cy="633.4" r="2.2" fill="#fff" stroke-width="1.62"/>
<circle cx="216.2" cy="644.6" r="2.2" fill="#fff" stroke-width="1.62"/>
<circle cx="236.4" cy="656.1" r="2.2" fill="#fff" stroke-width="1.62"/>
<circle cx="255.8" cy="667.1" r="2.2" fill="#fff" stroke-width="1.62"/>
<circle cx="275.6" cy="678.3" r="2.2" fill="#fff" stroke-width="1.62"/>
<circle cx="295.3" cy="689.5" r="2.2" fill="#fff" stroke-width="1.62"/>
<circle cx="315.0" cy="700.6" r="2.2" fill="#fff" stroke-width="1.62"/>
<circle cx="334.7" cy="711.6" r="2.2" fill="#fff" stroke-width="1.62"/>
<circle cx="352.0" cy="720.6" r="2.2" fill="#fff" stroke-width="1.62"/>
<circle cx="373.7" cy="729.2" r="2.2" fill="#fff" stroke-width="1.62"/>
<circle cx="400.6" cy="724.8" r="2.2" fill="#fff" stroke-width="1.62"/>
<circle cx="423.3" cy="715.6" r="2.2" fill="#fff" stroke-width="1.62"/>
<circle cx="442.7" cy="704.6" r="2.2" fill="#fff" stroke-width="1.62"/>
<circle cx="457.8" cy="692.4" r="2.2" fill="#fff" stroke-width="1.62"/>
<circle cx="464.2" cy="677.6" r="2.2" fill="#fff" stroke-width="1.62"/>
<circle cx="199.4" cy="621.0" r="2.2" fill="#fff" stroke-width="1.62"/>
<circle cx="223.4" cy="607.4" r="2.2" fill="#fff" stroke-width="1.62"/>
<circle cx="251.5" cy="591.4" r="2.2" fill="#fff" stroke-width="1.62"/>
<circle cx="276.3" cy="577.3" r="2.2" fill="#fff" stroke-width="1.62"/>
<circle cx="295.8" cy="577.0" r="2.2" fill="#fff" stroke-width="1.62"/>
<circle cx="316.0" cy="588.8" r="2.2" fill="#fff" stroke-width="1.62"/>
<circle cx="335.2" cy="600.1" r="2.2" fill="#fff" stroke-width="1.62"/>
<circle cx="354.4" cy="611.4" r="2.2" fill="#fff" stroke-width="1.62"/>
<circle cx="373.6" cy="622.7" r="2.2" fill="#fff" stroke-width="1.62"/>
<circle cx="392.8" cy="634.0" r="2.2" fill="#fff" stroke-width="1.62"/>
<circle cx="412.0" cy="645.3" r="2.2" fill="#fff" stroke-width="1.62"/>
<circle cx="431.2" cy="656.6" r="2.2" fill="#fff" stroke-width="1.62"/>
<circle cx="450.4" cy="667.9" r="2.2" fill="#fff" stroke-width="1.62"/>
<path d="M599.7 409.2 L596.2 410.8 L580.7 419.8 L576.1 427.3 L572.2 432.6 L548.2 449.4 L536.3 447.2 L534.3 442.1 L526.3 436.4" stroke="#1c1c1c" stroke-width="5.8" stroke-linejoin="round"/>
<path d="M599.7 409.2 L615.2 400.4 L617.9 399.5 L628.9 410.8 L629.3 413.4 L626.7 424.0 L624.4 434.1 L623.0 441.5 L605.8 461.7 L600.7 470.8 L596.2 481.8 L596.7 493.8 L601.2 507.8 L605.2 521.8 L607.7 531.8 L607.7 542.3 L508.7 600.3 L508.7 584.8 L511.2 568.8 L515.2 552.8 L520.7 537.8 L522.7 532.3" stroke="#1c1c1c" stroke-width="5.8" stroke-linejoin="round"/>
<path d="M522.7 532.3 L517.7 531.8 L512.7 533.3 L504.7 539.3 L501.2 540.6 L497.7 536.8 L496.2 523.8 L493.7 515.8" stroke="#1c1c1c" stroke-width="5.8" stroke-linejoin="round"/>
<path d="M493.7 515.8 L495.5 520.0 L495.2 508.0 L494.8 505.2" stroke="#1c1c1c" stroke-width="5.8" stroke-linejoin="round"/>
<path d="M526.3 436.4 L510.6 449.5 L476.5 467.3 L471.0 487.5 L471.3 506.5 L483.5 518.3 L492.5 514.3 L495.3 513.5" stroke="#1c1c1c" stroke-width="5.8" stroke-linejoin="round"/>
<path d="M604.2 517.8 L607.5 531.3 L607.4 541.6 L509.4 599.4 L509.4 584.8 L511.5 570.8" stroke="#1c1c1c" stroke-width="8.0" stroke-linejoin="miter" stroke-linecap="butt"/>
<path d="M599.7 409.2 L596.2 410.8 L580.7 419.8 L576.1 427.3 L572.2 432.6 L548.2 449.4 L536.3 447.2 L534.3 442.1 L526.3 436.4" stroke="#fff" stroke-width="2.6" stroke-linejoin="round"/>
<path d="M599.7 409.2 L615.2 400.4 L617.9 399.5 L628.9 410.8 L629.3 413.4 L626.7 424.0 L624.4 434.1 L623.0 441.5 L605.8 461.7 L600.7 470.8 L596.2 481.8 L596.7 493.8 L601.2 507.8 L605.2 521.8 L607.7 531.8 L607.7 542.3 L508.7 600.3 L508.7 584.8 L511.2 568.8 L515.2 552.8 L520.7 537.8 L522.7 532.3" stroke="#fff" stroke-width="2.6" stroke-linejoin="round"/>
<path d="M522.7 532.3 L517.7 531.8 L512.7 533.3 L504.7 539.3 L501.2 540.6 L497.7 536.8 L496.2 523.8 L493.7 515.8" stroke="#fff" stroke-width="2.6" stroke-linejoin="round"/>
<path d="M493.7 515.8 L495.5 520.0 L495.2 508.0 L494.8 505.2" stroke="#fff" stroke-width="2.6" stroke-linejoin="round"/>
<path d="M526.3 436.4 L510.6 449.5 L476.5 467.3 L471.0 487.5 L471.3 506.5 L483.5 518.3 L492.5 514.3 L495.3 513.5" stroke="#fff" stroke-width="2.6" stroke-linejoin="round"/>
<path d="M604.2 517.8 L607.5 531.3 L607.4 541.6 L509.4 599.4 L509.4 584.8 L511.5 570.8" stroke="#fff" stroke-width="4.8" stroke-linejoin="miter" stroke-linecap="butt"/>
<path d="M529.3 512.6 L520.0 530.1 M533.7 514.8 L518.1 546.3" stroke-width="1.69"/>
<circle cx="508.3" cy="589.1" r="2.3" fill="#fff" stroke-width="1.62"/>
<circle cx="510.3" cy="575.0" r="2.3" fill="#fff" stroke-width="1.62"/>
<circle cx="512.3" cy="566.9" r="2.3" fill="#fff" stroke-width="1.62"/>
<circle cx="516.4" cy="550.7" r="2.3" fill="#fff" stroke-width="1.62"/>
<circle cx="502.0" cy="539.4" r="2.3" fill="#fff" stroke-width="1.62"/>
<circle cx="531.3" cy="513.6" r="2.3" fill="#fff" stroke-width="1.62"/>
<circle cx="494.7" cy="507.6" r="2.3" fill="#fff" stroke-width="1.62"/>
<circle cx="604.3" cy="465.9" r="2.3" fill="#fff" stroke-width="1.62"/>
<circle cx="598.0" cy="495.3" r="2.3" fill="#fff" stroke-width="1.62"/>
<circle cx="601.5" cy="507.4" r="2.3" fill="#fff" stroke-width="1.62"/>
<circle cx="603.3" cy="514.5" r="2.3" fill="#fff" stroke-width="1.62"/>
<circle cx="606.3" cy="531.7" r="2.3" fill="#fff" stroke-width="1.62"/>
<circle cx="621.5" cy="443.6" r="2.3" fill="#fff" stroke-width="1.62"/>
<circle cx="625.3" cy="428.5" r="2.3" fill="#fff" stroke-width="1.62"/>
<circle cx="595.1" cy="413.3" r="2.3" fill="#fff" stroke-width="1.62"/>
<circle cx="615.4" cy="402.1" r="2.3" fill="#fff" stroke-width="1.62"/>
<circle cx="626.3" cy="414.3" r="2.3" fill="#fff" stroke-width="1.62"/>
<circle cx="576.2" cy="426.0" r="2.3" fill="#fff" stroke-width="1.62"/>
<circle cx="500.5" cy="452.8" r="2.3" fill="#fff" stroke-width="1.62"/>
<circle cx="486.1" cy="462.6" r="2.3" fill="#fff" stroke-width="1.62"/>
<circle cx="476.5" cy="467.6" r="2.3" fill="#fff" stroke-width="1.62"/>
<circle cx="470.6" cy="487.5" r="2.3" fill="#fff" stroke-width="1.62"/>
<circle cx="471.6" cy="506.4" r="2.3" fill="#fff" stroke-width="1.62"/>
<circle cx="484.0" cy="518.2" r="2.3" fill="#fff" stroke-width="1.62"/>
<path d="M522.0 532.0 L520.5 518.0 L524.5 498.5 L554.6 452.6 L562.6 458.3 L564.6 463.4 L576.5 465.6 L600.5 448.8 L604.4 443.5 L609.0 436.0 L624.5 427.0 L628.0 425.4" stroke="#1c1c1c" stroke-width="5.8" stroke-linejoin="round"/>
<path d="M628.0 425.4 L643.5 416.6 L646.2 415.7 L657.2 427.0 L657.6 429.6 L655.0 440.2 L652.7 450.3 L651.3 457.7 L634.1 477.9 L629.0 487.0 L624.5 498.0 L625.0 510.0 L629.5 524.0 L633.5 538.0 L636.0 548.0 L636.0 558.5 L537.0 616.5 L537.0 601.0 L539.5 585.0 L543.5 569.0 L549.0 554.0 L551.0 548.5" stroke="#1c1c1c" stroke-width="5.8" stroke-linejoin="round"/>
<path d="M551.0 548.5 L546.0 548.0 L541.0 549.5 L533.0 555.5 L529.5 556.8 L526.0 553.0 L524.5 540.0 L522.0 532.0" stroke="#1c1c1c" stroke-width="5.8" stroke-linejoin="round"/>
<path d="M632.5 534.0 L635.8 547.5 L635.7 557.8 L537.7 615.6 L537.7 601.0 L539.8 587.0" stroke="#1c1c1c" stroke-width="8.0" stroke-linejoin="miter" stroke-linecap="butt"/>
<path d="M522.0 532.0 L520.5 518.0 L524.5 498.5 L554.6 452.6 L562.6 458.3 L564.6 463.4 L576.5 465.6 L600.5 448.8 L604.4 443.5 L609.0 436.0 L624.5 427.0 L628.0 425.4" stroke="#fff" stroke-width="2.6" stroke-linejoin="round"/>
<path d="M628.0 425.4 L643.5 416.6 L646.2 415.7 L657.2 427.0 L657.6 429.6 L655.0 440.2 L652.7 450.3 L651.3 457.7 L634.1 477.9 L629.0 487.0 L624.5 498.0 L625.0 510.0 L629.5 524.0 L633.5 538.0 L636.0 548.0 L636.0 558.5 L537.0 616.5 L537.0 601.0 L539.5 585.0 L543.5 569.0 L549.0 554.0 L551.0 548.5" stroke="#fff" stroke-width="2.6" stroke-linejoin="round"/>
<path d="M551.0 548.5 L546.0 548.0 L541.0 549.5 L533.0 555.5 L529.5 556.8 L526.0 553.0 L524.5 540.0 L522.0 532.0" stroke="#fff" stroke-width="2.6" stroke-linejoin="round"/>
<path d="M632.5 534.0 L635.8 547.5 L635.7 557.8 L537.7 615.6 L537.7 601.0 L539.8 587.0" stroke="#fff" stroke-width="4.8" stroke-linejoin="miter" stroke-linecap="butt"/>
<path d="M557.6 528.8 L548.3 546.3 M562 531 L546.4 562.5" stroke-width="1.69"/>
<circle cx="555.3" cy="453.6" r="2.3" fill="#fff" stroke-width="1.62"/>
<circle cx="563.8" cy="461.6" r="2.3" fill="#fff" stroke-width="1.62"/>
<circle cx="604.4" cy="443.2" r="2.3" fill="#fff" stroke-width="1.62"/>
<circle cx="643.6" cy="418.5" r="2.3" fill="#fff" stroke-width="1.62"/>
<circle cx="654.8" cy="430.8" r="2.3" fill="#fff" stroke-width="1.62"/>
<circle cx="649.6" cy="459.7" r="2.3" fill="#fff" stroke-width="1.62"/>
<circle cx="632.1" cy="481.3" r="2.3" fill="#fff" stroke-width="1.62"/>
<circle cx="626.3" cy="512.0" r="2.3" fill="#fff" stroke-width="1.62"/>
<circle cx="631.3" cy="523.5" r="2.3" fill="#fff" stroke-width="1.62"/>
<circle cx="632.6" cy="531.5" r="2.3" fill="#fff" stroke-width="1.62"/>
<circle cx="635.4" cy="546.7" r="2.3" fill="#fff" stroke-width="1.62"/>
<circle cx="537.4" cy="606.3" r="2.3" fill="#fff" stroke-width="1.62"/>
<circle cx="538.2" cy="590.7" r="2.3" fill="#fff" stroke-width="1.62"/>
<circle cx="540.4" cy="584.0" r="2.3" fill="#fff" stroke-width="1.62"/>
<circle cx="544.6" cy="565.9" r="2.3" fill="#fff" stroke-width="1.62"/>
<circle cx="529.8" cy="556.4" r="2.3" fill="#fff" stroke-width="1.62"/>
<circle cx="559.6" cy="530.0" r="2.3" fill="#fff" stroke-width="1.62"/>
<circle cx="523.0" cy="523.4" r="2.3" fill="#fff" stroke-width="1.62"/>
<circle cx="526.0" cy="499.2" r="2.3" fill="#fff" stroke-width="1.62"/>
<path d="M504.3 663.7 C508.5 664.3 509.5 664.4 513.3 668.7 C517.1 673.0 517.3 673.9 518.5 679.9 C519.7 685.9 519.5 682.1 517.8 691.1 C516.1 700.1 516.7 703.4 512.2 713.6 C507.7 723.8 505.8 724.4 501.0 729.3 C496.2 734.2 497.8 733.2 494.2 732.0 C490.6 730.8 491.2 731.5 487.5 724.8 C483.8 718.1 481.8 715.9 480.3 706.9 C478.8 697.9 478.8 700.1 481.9 691.1 C485.0 682.1 487.8 679.7 492.0 673.1 C496.2 666.5 494.3 668.9 497.6 666.4 C500.9 663.9 500.1 663.1 504.3 663.7 Z" stroke-width="1.62"/>
<ellipse cx="499.5" cy="698.3" rx="14.2" ry="22.3" transform="rotate(22 499.5 698.3)" stroke-width="1.75" fill="none" />
<circle cx="501" cy="669.8" r="1.9" stroke-width="1.5"/>
<circle cx="497.1" cy="724.4" r="1.9" stroke-width="1.5"/>
<path d="M539.2 641.2 C542.8 641.0 546.3 641.8 549.3 642.8 C552.3 643.8 548.9 644.6 550.4 645.1 C551.9 645.6 551.9 641.9 554.9 644.6 C557.9 647.3 559.7 650.0 561.6 655.2 C563.5 660.4 563.3 656.4 562.1 664.2 C560.9 672.0 559.9 675.7 557.1 684.4 C554.3 693.1 554.5 693.0 551.5 696.7 C548.5 700.4 551.6 700.1 545.9 698.3 C540.2 696.5 535.9 694.9 530.2 690.0 C524.5 685.1 525.7 686.2 524.6 679.9 C523.5 673.6 524.0 674.2 526.1 666.4 C528.2 658.6 529.8 656.8 532.4 650.7 C535.0 644.6 534.0 646.0 535.8 643.5 C537.6 641.0 535.6 641.4 539.2 641.2 Z" stroke-width="1.62"/>
<ellipse cx="544.2" cy="671.5" rx="14.0" ry="22.0" transform="rotate(22 544.2 671.5)" stroke-width="1.75" fill="none" />
<circle cx="538.7" cy="646.4" r="1.9" stroke-width="1.5"/>
<circle cx="548.1" cy="692.7" r="1.9" stroke-width="1.5"/>
<path d="M584.1 612.5 C590.7 610.4 593.2 610.6 599.8 613.6 C606.4 616.6 606.1 616.8 608.8 623.7 C611.5 630.6 610.8 631.0 609.9 639.4 C609.0 647.8 609.3 648.0 605.4 655.2 C601.5 662.4 602.8 663.7 595.3 666.4 C587.8 669.1 584.3 668.3 577.4 665.3 C570.5 662.3 571.6 664.5 569.5 655.2 C567.4 645.9 568.0 639.4 569.5 630.4 C571.0 621.4 571.2 626.3 575.1 621.5 C579.0 616.7 577.5 614.6 584.1 612.5 Z" stroke-width="1.62"/>
<ellipse cx="589.9" cy="639.8" rx="14.8" ry="23.0" transform="rotate(22 589.9 639.8)" stroke-width="1.75" fill="none" />
<circle cx="574" cy="628.7" r="1.9" stroke-width="1.5"/>
<circle cx="604.8" cy="650.2" r="1.9" stroke-width="1.5"/>
<path d="M636.9 597.2 C640.5 596.0 642.7 594.4 645.9 597.9 C649.1 601.4 649.1 602.1 648.8 610.2 C648.5 618.3 648.9 619.5 644.8 628.2 C640.7 636.9 637.7 637.4 633.5 642.8 C629.3 648.2 632.3 646.8 629.0 648.4 C625.7 650.0 623.9 650.7 621.2 648.9 C618.5 647.1 619.7 647.2 618.9 641.7 C618.1 636.2 616.8 636.0 618.3 628.2 C619.8 620.4 620.8 619.4 624.6 612.5 C628.4 605.6 629.1 606.5 632.4 602.4 C635.7 598.3 633.3 598.4 636.9 597.2 Z" stroke-width="1.62"/>
<ellipse cx="633.3" cy="623.3" rx="11.6" ry="17.8" transform="rotate(22 633.3 623.3)" stroke-width="1.75" fill="none" />
<circle cx="639.8" cy="601.4" r="1.9" stroke-width="1.5"/>
<circle cx="626.3" cy="643.7" r="1.9" stroke-width="1.5"/>
<ellipse cx="485.7" cy="637.3" rx="15.4" ry="23.4" transform="rotate(30 485.7 637.3)" stroke-width="2.88" fill="none" />
<ellipse cx="485.9" cy="637.5" rx="8.8" ry="14.4" transform="rotate(30 485.9 637.5)" stroke-width="2.62" fill="none" />
<ellipse cx="401" cy="601.9" rx="5.9" ry="9.4" transform="rotate(-25 401 601.9)" stroke-width="2.5" fill="none" />
<ellipse cx="420.4" cy="618.8" rx="7.6" ry="12.2" transform="rotate(30 420.4 618.8)" stroke-width="2.5" fill="none" />
<ellipse cx="444" cy="619.6" rx="4.2" ry="6.3" transform="rotate(30 444 619.6)" stroke-width="2.5" fill="none" />
<ellipse cx="389.3" cy="614.1" rx="4.4" ry="2.0" transform="rotate(-15 389.3 614.1)" stroke-width="2.75" fill="none" stroke="#222"/>
<ellipse cx="438.6" cy="638.1" rx="2.4" ry="3.9" transform="rotate(-30 438.6 638.1)" stroke-width="2.75" fill="none" stroke="#222"/>
<ellipse cx="482.7" cy="549.1" rx="4.6" ry="7.3" transform="rotate(-30 482.7 549.1)" stroke-width="2.5" fill="none" />
<ellipse cx="421.8" cy="504.2" rx="12.3" ry="19.2" transform="rotate(28 421.8 504.2)" stroke-width="2.8" fill="none" stroke="#777"/>
<ellipse cx="421.8" cy="504.2" rx="12.3" ry="19.2" transform="rotate(28 421.8 504.2)" stroke-width="3" fill="none" stroke="#fff" stroke-dasharray="0.6 1.8" stroke-linecap="butt" opacity="0.55"/>
<ellipse cx="421.9" cy="504.2" rx="10.2" ry="16.6" transform="rotate(28 421.9 504.2)" stroke-width="1.25" fill="none" stroke="#777"/>
<ellipse cx="422.6" cy="504.2" rx="7.6" ry="13.2" transform="rotate(28 422.6 504.2)" stroke-width="2.38" fill="none" />
<path d="M424.5 493.5 Q431 498 427.6 508.5 Q424.5 515 418 515.5" stroke-width="1.62"/>
<path d="M460.5 524.9 L469.0 534.8 L468.2 553.3 L456.6 576.1 L438.1 589.5 L430.0 594.3 L428.4 586.0 L427.4 576.1 L428.3 554.2 L438.1 538.4 Z" stroke="#222" stroke-width="3.7" stroke-linejoin="round"/>
<path d="M460.5 524.9 L469.0 534.8 L468.2 553.3 L456.6 576.1 L438.1 589.5 L430.0 594.3 L428.4 586.0 L427.4 576.1 L428.3 554.2 L438.1 538.4 Z" stroke="#fff" stroke-width="1.5" stroke-linejoin="round"/>
<path d="M460.5 524.9 L469.0 534.8 L468.2 553.3 L456.6 576.1 L438.1 589.5 L430.0 594.3 L428.4 586.0 L427.4 576.1 L428.3 554.2 L438.1 538.4 Z" stroke="#fff" stroke-width="4" stroke-dasharray="0.5 2.8" stroke-linecap="butt" opacity="0.25"/>
<path d="M427.8 577 L436.4 577.6 L431 588.5" stroke-width="1.62"/>
<circle cx="460.5" cy="525.2" r="1.7" fill="#222" stroke="none"/>
<circle cx="468.9" cy="535" r="1.7" fill="#222" stroke="none"/>
<circle cx="468.4" cy="553.3" r="1.7" fill="#222" stroke="none"/>
<circle cx="456.6" cy="576.1" r="1.7" fill="#222" stroke="none"/>
<circle cx="438.1" cy="589.5" r="1.7" fill="#222" stroke="none"/>
<circle cx="427.4" cy="576.1" r="1.7" fill="#222" stroke="none"/>
<circle cx="428.3" cy="554.2" r="1.7" fill="#222" stroke="none"/>
<circle cx="438.1" cy="538.4" r="1.7" fill="#222" stroke="none"/>
<g id="wm" stroke="none">
<rect x="297.6" y="312" width="296" height="134" fill="#fff" opacity="0.55"/>
<rect x="326.8" y="312" width="237.4" height="134.2" fill="#fff"/>
<g fill="#e3e3e3">
<path d="M502.8 315.1 L526 326.9 L526.9 350.5 L504.1 341.2 Z"/>
<path d="M459.5 326 L474.7 331.9 L470.5 338.7 L461.2 337.8 Z"/>
<path d="M473.8 333.5 Q478 329.5 486 330.5 L500.8 333.6 L500.8 342 L475.5 339.5 Z"/>
<path d="M442.7 343.7 L489 342.4 L490.7 347.1 L482.2 382.4 L446.9 380.8 L445.2 355.5 Z"/>
<path d="M490.7 343.7 L504.1 342.9 L512.5 352.1 L542.8 360.6 L554.6 363.1 Q558 365 557.2 369 L555.5 372.3 L549.6 369.8 L546.2 370.7 L547.1 379.1 L542.8 384.1 L504.1 379.1 L503.3 392.5 L480.6 392.5 L482.2 382.4 Z"/>
<path d="M431 358.5 L430.2 353 Q431 351 433.4 350.6 L442 349 L442.3 351.3 L433.6 352.8 L432.6 358.5 Z"/>
<path d="M480.6 395.5 L542.8 395.5 L546 399.5 L549 412 L543 432 L470 428 L466 420 L430 418 L430 410 L470 405 Z" opacity="0.8"/>
<path d="M529.4 396 L538 391.5 L546.2 397 L546.2 400 L529.4 399.3 Z"/>
<clipPath id="wmclip"><rect x="326.8" y="312" width="237.4" height="134.2"/></clipPath>
<g clip-path="url(#wmclip)"><ellipse cx="553.6" cy="419" rx="8.2" ry="24" transform="rotate(19 553.6 419)" fill="#dddddd"/>
<ellipse cx="555.4" cy="419.5" rx="4.6" ry="19" transform="rotate(19 555.4 419.5)" fill="#ececec"/></g>
<path d="M441 420.5 L470 424 L528 437.5 L552 441.5 L552 444.8 L520 443 L441 425.5 Z" opacity="0.55"/>
</g>
<g stroke="#fff" stroke-width="1.3" fill="none">
<path d="M447 347 L468.8 345.4 L475.5 375.7 L450.3 379 Z M473.8 346.2 L487.3 345.4 L480.6 375.7 L478 377.4 Z"/>
<path d="M455 352 Q460 350 462 352 L458 372 L456 372 Z" fill="#fff" stroke="none" opacity="0.5"/>
<path d="M506.2 318.5 L507 341.5 M509.6 320.2 L510.4 343 M513 322 L513.8 344.4 M516.4 323.7 L517.2 345.8 M519.8 325.4 L520.6 347.2 M523.2 327.1 L524 348.6" stroke-width="1.25"/>
<path d="M462 329 L472 333.5 M462 331.5 L471 335.8 M462 334 L470.3 337.8" stroke-width="1.12"/>
<path d="M492.3 357.2 L546.2 369.8 M499 360.5 L497.3 379 M512.5 352.1 L542.8 360.6 M504.1 379.1 L542.8 384.1" stroke-width="1.5"/>
<path d="M528 357.5 L528.5 362.5 M537 360 L537.3 365" stroke-width="1.25"/>
</g>
<clipPath id="gclipU"><path d="M326.8 312 L420 312 L420 386 Q372 386 326.8 400 Z"/></clipPath>
<clipPath id="gclipL"><path d="M335 409 Q372 395.5 402 393 L402 446 L326.8 446 L326.8 412 Z"/></clipPath>
<g clip-path="url(#gclipU)"><path d="M359.4 355.5 L360.9 350.1 L365.2 350.0 L367.0 355.3 L371.6 356.1 L375.1 351.7 L379.1 353.3 L378.7 358.9 L382.6 361.3 L387.5 358.6 L390.6 361.5 L388.1 366.6 L390.8 370.4 L396.4 369.7 L398.2 373.6 L393.9 377.3 L395.0 381.9 L400.4 383.4 L400.5 387.7 L395.2 389.5 L394.4 394.1 L398.8 397.6 L397.2 401.6 L391.6 401.2 L389.2 405.1 L391.9 410.0 L389.0 413.1 L383.9 410.6 L380.1 413.3 L380.8 418.9 L376.9 420.7 L373.2 416.4 L368.6 417.5 L367.1 422.9 L362.8 423.0 L361.0 417.7 L356.4 416.9 L352.9 421.3 L348.9 419.7 L349.3 414.1 L345.4 411.7 L340.5 414.4 L337.4 411.5 L339.9 406.4 L337.2 402.6 L331.6 403.3 L329.8 399.4 L334.1 395.7 L333.0 391.1 L327.6 389.6 L327.5 385.3 L332.8 383.5 L333.6 378.9 L329.2 375.4 L330.8 371.4 L336.4 371.8 L338.8 367.9 L336.1 363.0 L339.0 359.9 L344.1 362.4 L347.9 359.7 L347.2 354.1 L351.1 352.3 L354.8 356.6 Z" fill="#c3c3c3"/><circle cx="364" cy="386.5" r="28" fill="#b1b1b1"/><circle cx="359.7" cy="383.1" r="22.9" fill="#fff"/></g>
<g clip-path="url(#gclipL)"><path d="M359.4 355.5 L360.9 350.1 L365.2 350.0 L367.0 355.3 L371.6 356.1 L375.1 351.7 L379.1 353.3 L378.7 358.9 L382.6 361.3 L387.5 358.6 L390.6 361.5 L388.1 366.6 L390.8 370.4 L396.4 369.7 L398.2 373.6 L393.9 377.3 L395.0 381.9 L400.4 383.4 L400.5 387.7 L395.2 389.5 L394.4 394.1 L398.8 397.6 L397.2 401.6 L391.6 401.2 L389.2 405.1 L391.9 410.0 L389.0 413.1 L383.9 410.6 L380.1 413.3 L380.8 418.9 L376.9 420.7 L373.2 416.4 L368.6 417.5 L367.1 422.9 L362.8 423.0 L361.0 417.7 L356.4 416.9 L352.9 421.3 L348.9 419.7 L349.3 414.1 L345.4 411.7 L340.5 414.4 L337.4 411.5 L339.9 406.4 L337.2 402.6 L331.6 403.3 L329.8 399.4 L334.1 395.7 L333.0 391.1 L327.6 389.6 L327.5 385.3 L332.8 383.5 L333.6 378.9 L329.2 375.4 L330.8 371.4 L336.4 371.8 L338.8 367.9 L336.1 363.0 L339.0 359.9 L344.1 362.4 L347.9 359.7 L347.2 354.1 L351.1 352.3 L354.8 356.6 Z" fill="#b0b0b0"/></g>
<path d="M330.8 397.9 Q352 389.5 373.9 387.1 Q405 385.2 446 386.2 L446 390.6 Q420 390.4 400.8 391.4 Q385 392.3 373.9 393.9 Q354 398.5 337.5 410 Z" fill="#c6c6c6"/>
<path d="M332.1 400.3 Q352.2 391.3 373.9 388.5 Q392 386.9 412 387.3" stroke="#fff" stroke-width="0.75" fill="none" opacity="0.9"/>
<path d="M333.5 402.7 Q352.4 393.0 373.9 389.8 Q392 388.0 412 388.0" stroke="#fff" stroke-width="0.75" fill="none" opacity="0.9"/>
<path d="M334.8 405.2 Q352.6 394.8 373.9 391.2 Q392 389.2 412 388.8" stroke="#fff" stroke-width="0.75" fill="none" opacity="0.9"/>
<path d="M336.2 407.6 Q352.8 396.5 373.9 392.5 Q392 390.3 412 389.5" stroke="#fff" stroke-width="0.75" fill="none" opacity="0.9"/>
<rect x="376.6" y="394.6" width="25.6" height="2.7" rx="1.3" fill="#acacac"/>
<text x="446.3" y="394" font-family="Liberation Sans, sans-serif" font-size="13.4" fill="#8d8d8d" stroke="#8d8d8d" stroke-width="0.35" textLength="32.3" lengthAdjust="spacingAndGlyphs">ООО</text>
<text x="366.8" y="424" font-family="Liberation Serif, serif" font-weight="bold" font-size="32.5" fill="#fff" stroke="#fff" stroke-width="3.6" stroke-linejoin="round" textLength="178.4" lengthAdjust="spacingAndGlyphs"><tspan font-size="35.5">А</tspan>ГРОСНАБ</text>
<text x="366.8" y="424" font-family="Liberation Serif, serif" font-weight="bold" font-size="32.5" fill="#8d8d8d" textLength="178.4" lengthAdjust="spacingAndGlyphs"><tspan font-size="35.5">А</tspan>ГРОСНАБ</text>
</g>
<path d="M567.7 384.3 Q575 386.5 577.1 394.4 Q578.5 406 571.8 417.3 Q568 422.5 564.3 425.4" stroke="#8f8f8f" stroke-width="2.38"/>
<path d="M564.3 397.1 Q569 401 568.2 406 Q567.2 411.5 564.3 414.6" stroke="#9a9a9a" stroke-width="2.0"/>
<rect x="565.2" y="378" width="2.6" height="14.8" fill="#6a6a6a" stroke="none"/>
</svg>
</body></html>
